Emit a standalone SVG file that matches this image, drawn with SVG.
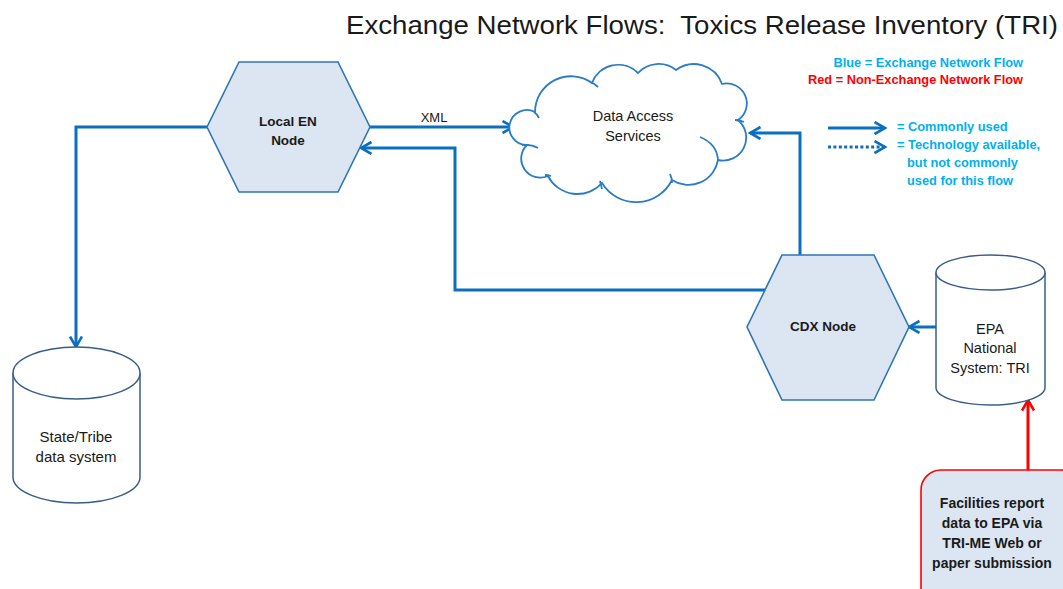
<svg xmlns="http://www.w3.org/2000/svg" width="1063" height="589" viewBox="0 0 1063 589">
<style>
.hex{fill:#dce6f2;stroke:#2e75b6;stroke-width:1.6}
.cyl{fill:#ffffff;stroke:#385d8a;stroke-width:1.5}
.cloud{fill:#ffffff;stroke:#2a7cc7;stroke-width:1.8}
.inner{fill:none;stroke:#2a7cc7;stroke-width:1.8}
.con{fill:none;stroke:#0b6fc0;stroke-width:3}
.red{fill:none;stroke:#ff0000;stroke-width:3}
.lbl{font-family:"Liberation Sans",Arial,sans-serif;fill:#1a1a1a;text-anchor:middle}
.b{font-weight:bold;font-size:13.5px}
.r{font-size:14.5px}
.leg{font-family:"Liberation Sans",Arial,sans-serif;font-weight:bold;font-size:12.8px}
</style>
<defs>
<marker id="ab" markerUnits="userSpaceOnUse" markerWidth="14" markerHeight="16" refX="11.5" refY="7" orient="auto">
<path d="M1,1 L11.5,7 L1,13" fill="none" stroke="#0b6fc0" stroke-width="2.6"/>
</marker>
<marker id="ar" markerUnits="userSpaceOnUse" markerWidth="14" markerHeight="16" refX="11.5" refY="7" orient="auto">
<path d="M1,1 L11.5,7 L1,13" fill="none" stroke="#ff0000" stroke-width="2.6"/>
</marker>
</defs>
<rect width="1063" height="589" fill="#ffffff"/>

<text x="346" y="34" font-family="'Liberation Sans',Arial,sans-serif" font-size="26" fill="#1a1a1a" textLength="712" lengthAdjust="spacingAndGlyphs">Exchange Network Flows:&#160; Toxics Release Inventory (TRI)</text>

<g id="legend">
<text class="leg" x="1023" y="67" text-anchor="end" fill="#00b0f0">Blue = Exchange Network Flow</text>
<text class="leg" x="1023" y="84" text-anchor="end" fill="#ff0000">Red = Non-Exchange Network Flow</text>
<path d="M828,128 H885" class="con" marker-end="url(#ab)"/>
<path d="M828,147 H885" class="con" stroke-dasharray="3,2.4" marker-end="url(#ab)"/>
<text class="leg" x="897" y="131" fill="#00b0f0">= Commonly used</text>
<text class="leg" x="897" y="149" fill="#00b0f0">= Technology available,</text>
<text class="leg" x="907" y="167" fill="#00b0f0">but not commonly</text>
<text class="leg" x="907" y="185" fill="#00b0f0">used for this flow</text>
</g>

<g id="connectors">
<path d="M370,127 H513" class="con" marker-end="url(#ab)"/>
<text x="434" y="122" font-family="'Liberation Sans',Arial,sans-serif" font-size="13" fill="#1a1a1a" text-anchor="middle">XML</text>
<path d="M800,255 V133 H750" class="con" marker-end="url(#ab)"/>
<path d="M765,290 H455 V148 H361" class="con" marker-end="url(#ab)"/>
<path d="M207,127 H76 V347" class="con" marker-end="url(#ab)"/>
<path d="M936,327 H909" class="con" marker-end="url(#ab)"/>
<path d="M1028,470 V400" class="red" marker-end="url(#ar)"/>
</g>

<g id="local-en-node">
<polygon class="hex" points="239,62 338,62 370,127 338,192 239,192 207,127"/>
<text class="lbl b" x="288" y="126">Local EN</text>
<text class="lbl b" x="288" y="145">Node</text>
</g>

<g id="data-access-services">
<path class="cloud" d="M527,145 A17.5,17.5 0 1 1 535,112 A36,36 0 0 1 592,83 A28,28 0 0 1 638,73 A28,28 0 0 1 676,70 A30,30 0 0 1 722,84 A20,20 0 0 1 738,120 A23,23 0 0 1 718,160 A30,30 0 0 1 672,180 A40,40 0 0 1 602,183 A33,33 0 0 1 548,176 A19,19 0 0 1 527,145 Z"/>
<path class="inner" d="M522,145 Q531,144 538,148 M534,112 Q537,114 539,118 M590,82 Q594,83 598,87 M718,160 Q717,144 700,137 M735,120 Q740,120 744,122 M670,174 Q672,178 672,183 M600,181 Q601,185 602,189 M545,175 Q548,175 551,176"/>
<text class="lbl r" x="633" y="121">Data Access</text>
<text class="lbl r" x="633" y="141">Services</text>
</g>

<g id="cdx-node">
<polygon class="hex" points="782,255 874,255 909,327 874,400 782,400 747,327"/>
<text class="lbl b" x="823" y="331">CDX Node</text>
</g>

<g id="epa-national-system">
<path class="cyl" d="M936,272.5 V387.5 A54.5,17.5 0 0 0 1045,387.5 V272.5"/>
<ellipse class="cyl" cx="990.5" cy="272.5" rx="54.5" ry="17.5"/>
<text class="lbl r" x="990" y="334">EPA</text>
<text class="lbl r" x="990" y="353">National</text>
<text class="lbl r" x="990" y="373">System: TRI</text>
</g>

<g id="state-tribe-data-system">
<path class="cyl" d="M13,373 V477 A63.5,26 0 0 0 140,477 V373"/>
<ellipse class="cyl" cx="76.5" cy="373" rx="63.5" ry="26"/>
<text class="lbl r" x="76" y="442" style="font-size:15px">State/Tribe</text>
<text class="lbl r" x="76" y="462" style="font-size:15px">data system</text>
</g>

<g id="facilities-report">
<rect x="921" y="470" width="160" height="140" rx="20" ry="20" fill="#dce6f2" stroke="#ff0000" stroke-width="1.6"/>
<text class="lbl" x="992" y="508" style="font-weight:bold;font-size:14px">Facilities report</text>
<text class="lbl" x="992" y="528" style="font-weight:bold;font-size:14px">data to EPA via</text>
<text class="lbl" x="992" y="548" style="font-weight:bold;font-size:14px">TRI-ME Web or</text>
<text class="lbl" x="992" y="568" style="font-weight:bold;font-size:14px">paper submission</text>
</g>
</svg>
